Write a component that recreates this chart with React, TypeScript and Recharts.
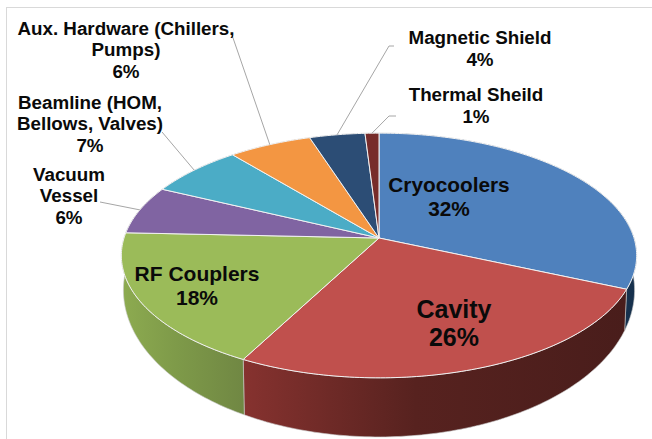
import React from 'react';
import { PieChart, Pie, Cell } from 'recharts';

const CATEGORIES = ['Cryocoolers', 'Cavity', 'RF Couplers', 'Vacuum Vessel', 'Beamline (HOM, Bellows, Valves)', 'Aux. Hardware (Chillers, Pumps)', 'Magnetic Shield', 'Thermal Sheild'];
// read from the slice edges, the labels show these rounded
const VALUES = [31.6, 26.1, 18, 6.4, 6.9, 6, 4, 1];

const TOP_COLORS = ['#4f81bd', '#c0504d', '#9bbb59', '#8064a2', '#4bacc6', '#f39642', '#2c4d75', '#772c2a'];
const WALL_LEFT = ['#2a5078', '#86322f', '#8dab50', '#6b5488', '#3d90a6', '#d07c38', '#243f60', '#5f2321'];
const WALL_MID = ['#1f3f60', '#57221f', '#7e9a49', '#5d4977', '#357e92', '#b66c31', '#1f3754', '#532320'];
const WALL_RIGHT = ['#16304c', '#491d1b', '#708743', '#4f3e65', '#2d6c7d', '#9c5d2a', '#1a2f48', '#471a18'];

const data = CATEGORIES.map((name, i) => ({ name, value: VALUES[i] }));

// wrapped label text and where each block sits
const LABEL_LINES = [
  ['Cryocoolers'],
  ['Cavity'],
  ['RF Couplers'],
  ['Vacuum', 'Vessel'],
  ['Beamline (HOM,', 'Bellows, Valves)'],
  ['Aux. Hardware (Chillers,', 'Pumps)'],
  ['Magnetic Shield'],
  ['Thermal Sheild'],
];
const LABEL_X = [449, 454, 197, 69, 90, 126, 480, 476];
const LABEL_Y = [184, 309, 273, 174, 102, 28, 37, 94];
const LABEL_SIZE = [20.8, 25, 21, 18.8, 18.8, 18.8, 18.8, 18.8];
const LABEL_STEP = [24, 28, 24, 21.5, 21.5, 21.5, 22.5, 22.5];
// elbow of each leader line, null when the label sits on its slice
const LEADERS: ([number, number][] | null)[] = [
  null,
  null,
  null,
  [[100, 202]],
  [[162, 132]],
  [[232, 35]],
  [[394, 46], [389, 46]],
  [[396, 116], [389, 116]],
];

const WIDTH = 652;
const HEIGHT = 439;
const CX = 379;
const CY = 238;
const RADIUS = 255;
const TILT = 0.47; // vertical squash of the pie top
const PERSPECTIVE = 1 / 7;
const WALL_DROP = 31;
const WALL_TILT = 0.569;
const WALL_SHRINK = 0.992;

// project a pie angle onto the tilted disc
const rimPoint = (cx: number, cy: number, r: number, deg: number, tilt = TILT) => {
  const rad = (deg * Math.PI) / 180;
  const u = Math.cos(rad);
  const v = -Math.sin(rad);
  const d = 1 - PERSPECTIVE * v;
  return [cx + (r * u) / d, cy + (r * tilt * v) / d];
};

const arcPoints = (cx: number, cy: number, r: number, from: number, to: number, tilt = TILT) => {
  const steps = Math.max(2, Math.ceil(Math.abs(to - from)));
  const pts: number[][] = [];
  for (let i = 0; i <= steps; i++) pts.push(rimPoint(cx, cy, r, from + ((to - from) * i) / steps, tilt));
  return pts;
};

const toPath = (pts: number[][]) => 'M' + pts.map((p) => `${p[0].toFixed(2)},${p[1].toFixed(2)}`).join('L') + 'Z';

const TopSlice = (props: any) => {
  const { cx, cy, outerRadius, startAngle, endAngle, fill } = props;
  const pts = [[cx, cy], ...arcPoints(cx, cy, outerRadius, startAngle, endAngle)];
  return <path d={toPath(pts)} fill={fill} stroke="#f2f2f2" strokeWidth={1} strokeLinejoin="round" />;
};

const WallSlice = (props: any) => {
  const { cx, cy, outerRadius, startAngle, endAngle, fill } = props;
  const upper = arcPoints(cx, cy, outerRadius, startAngle, endAngle);
  const lower = arcPoints(cx, cy + WALL_DROP, outerRadius * WALL_SHRINK, endAngle, startAngle, WALL_TILT);
  return <path d={toPath([...upper, ...lower])} fill={fill} stroke="#c9c9c9" strokeWidth={0.6} strokeLinejoin="round" />;
};

const renderLabel = (props: any) => {
  const { index, cx, cy, outerRadius, midAngle, value } = props;
  const lines = [...LABEL_LINES[index], `${Math.round(value)}%`];
  const leader = LEADERS[index];
  let line = null;
  if (leader) {
    const end = rimPoint(cx, cy, outerRadius, midAngle);
    line = <polyline points={[...leader, end].map((p) => p.join(',')).join(' ')} fill="none" stroke="#a6a6a6" strokeWidth={1} />;
  }
  return (
    <g key={index}>
      {line}
      {lines.map((t, i) => (
        <text
          key={i}
          x={LABEL_X[index]}
          y={LABEL_Y[index] + i * LABEL_STEP[index]}
          textAnchor="middle"
          dominantBaseline="central"
          fontFamily="Liberation Sans"
          fontWeight="bold"
          fontSize={LABEL_SIZE[index]}
          fill="#0a0a0a"
        >
          {t}
        </text>
      ))}
    </g>
  );
};

export default function App() {
  return (
    <div style={{ position: 'absolute', left: 0, top: 0, width: WIDTH, height: HEIGHT, background: '#fff', overflow: 'hidden' }}>
      <div style={{ position: 'absolute', left: 6, top: 7, right: -2, bottom: -2, borderLeft: '1px solid #d9d9d9', borderTop: '1px solid #d9d9d9' }} />
      <PieChart width={WIDTH} height={HEIGHT} style={{ position: 'absolute', left: 0, top: 0 }} margin={{ top: 0, right: 0, bottom: 0, left: 0 }}>
        <defs>
          {CATEGORIES.map((_, i) => (
            <linearGradient key={i} id={`wall${i}`} x1="0" y1="0" x2="1" y2="0">
              <stop offset="0%" stopColor={WALL_LEFT[i]} />
              <stop offset="45%" stopColor={WALL_MID[i]} />
              <stop offset="100%" stopColor={WALL_RIGHT[i]} />
            </linearGradient>
          ))}
        </defs>
        <Pie
          data={data}
          dataKey="value"
          cx={CX}
          cy={CY}
          outerRadius={RADIUS}
          startAngle={90}
          endAngle={-270}
          shape={WallSlice}
          inactiveShape={WallSlice}
          isAnimationActive={false}
          label={false}
          labelLine={false}
        >
          {CATEGORIES.map((_, i) => (
            <Cell key={i} fill={`url(#wall${i})`} />
          ))}
        </Pie>
        <Pie
          data={data}
          dataKey="value"
          cx={CX}
          cy={CY}
          outerRadius={RADIUS}
          startAngle={90}
          endAngle={-270}
          shape={TopSlice}
          inactiveShape={TopSlice}
          isAnimationActive={false}
          label={renderLabel}
          labelLine={false}
        >
          {CATEGORIES.map((_, i) => (
            <Cell key={i} fill={TOP_COLORS[i]} />
          ))}
        </Pie>
      </PieChart>
    </div>
  );
}
